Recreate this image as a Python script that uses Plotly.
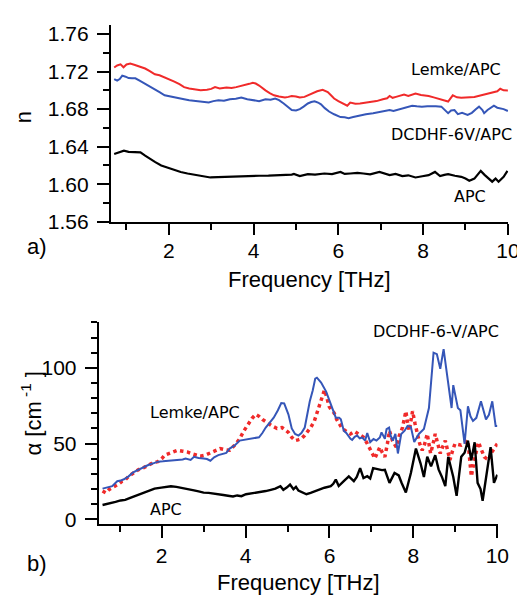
import plotly.graph_objects as go

# ---------------- Panel a: refractive index ----------------
f_lemke_a = [0.71,0.78,0.86,0.93,1.00,1.09,1.20,1.32,1.44,1.55,1.67,1.78,1.90,2.02,2.13,2.25,2.36,2.48,2.59,2.75,
             2.90,3.00,3.09,3.20,3.36,3.48,3.59,3.75,3.90,3.98,4.05,4.13,4.20,4.28,4.38,4.48,4.60,4.74,4.82,4.90,
             5.00,5.09,5.20,5.36,5.50,5.63,5.75,5.82,5.90,6.00,6.09,6.15,6.21,6.28,6.40,6.51,6.62,6.74,6.90,7.05,
             7.15,7.21,7.28,7.36,7.45,7.55,7.65,7.82,7.95,8.13,8.25,8.36,8.48,8.59,8.70,8.80,8.90,9.05,9.21,9.35,
             9.51,9.65,9.75,9.82,9.90,10.0]
n_lemke_a = [1.7243,1.7265,1.7277,1.7245,1.7275,1.7284,1.7270,1.7255,1.7232,1.7205,1.7170,1.7160,1.7139,1.7110,1.7093,1.7065,1.7034,1.7020,1.7010,1.7002,
             1.7006,1.7015,1.7034,1.7020,1.7030,1.7025,1.7034,1.7048,1.7069,1.7080,1.7072,1.7051,1.7025,1.6999,1.6970,1.6947,1.6935,1.6923,1.6930,1.6940,
             1.6935,1.6923,1.6930,1.6965,1.6990,1.7006,1.6982,1.6950,1.6913,1.6885,1.6860,1.6850,1.6836,1.6870,1.6858,1.6860,1.6865,1.6870,1.6885,1.6905,
             1.6915,1.6940,1.6920,1.6930,1.6945,1.6954,1.6940,1.6965,1.6950,1.6940,1.6925,1.6910,1.6890,1.6880,1.6947,1.6925,1.6920,1.6925,1.6930,1.6945,
             1.6965,1.6985,1.6990,1.7017,1.7000,1.6999]

f_dcdhf_a = [0.71,0.78,0.84,0.90,0.98,1.05,1.13,1.21,1.32,1.44,1.55,1.67,1.78,1.90,2.02,2.13,2.25,2.36,2.48,2.59,
             2.75,2.94,3.05,3.17,3.30,3.44,3.58,3.71,3.85,3.98,4.13,4.28,4.40,4.51,4.60,4.71,4.80,4.90,5.00,5.09,
             5.18,5.28,5.36,5.44,5.52,5.59,5.68,5.78,5.90,6.05,6.15,6.24,6.35,6.51,6.65,6.82,7.00,7.21,7.30,7.44,
             7.60,7.74,7.85,7.97,8.10,8.20,8.30,8.43,8.52,8.59,8.66,8.74,8.82,8.92,9.05,9.15,9.25,9.32,9.40,9.44,
             9.52,9.60,9.67,9.75,9.82,9.90,10.0]
n_dcdhf_a = [1.7120,1.7103,1.7120,1.7156,1.7145,1.7130,1.7128,1.7128,1.7100,1.7069,1.7045,1.7017,1.6980,1.6947,1.6935,1.6920,1.6910,1.6905,1.6895,1.6888,
             1.6880,1.6870,1.6885,1.6895,1.6890,1.6905,1.6910,1.6923,1.6905,1.6895,1.6885,1.6905,1.6900,1.6913,1.6895,1.6860,1.6825,1.6790,1.6785,1.6800,
             1.6826,1.6860,1.6875,1.6884,1.6870,1.6850,1.6810,1.6774,1.6745,1.6715,1.6712,1.6704,1.6715,1.6732,1.6745,1.6756,1.6772,1.6790,1.6780,1.6797,
             1.6815,1.6836,1.6830,1.6826,1.6830,1.6826,1.6830,1.6826,1.6790,1.6756,1.6785,1.6790,1.6746,1.6760,1.6738,1.6760,1.6800,1.6826,1.6790,1.6756,
             1.6790,1.6810,1.6836,1.6815,1.6808,1.6800,1.6780]

f_apc_a = [0.71,0.80,0.94,1.05,1.21,1.33,1.44,1.55,1.68,1.82,1.97,2.13,2.28,2.44,2.60,2.75,2.98,3.15,3.36,3.55,
           3.75,3.95,4.13,4.35,4.59,4.80,4.90,4.95,5.02,5.09,5.28,5.45,5.67,5.85,6.05,6.15,6.28,6.45,6.59,6.75,
           6.97,7.10,7.21,7.35,7.51,7.65,7.82,7.98,8.13,8.28,8.40,8.50,8.59,8.75,8.90,9.00,9.09,9.21,9.36,9.45,
           9.51,9.63,9.71,9.78,9.90,9.99]
n_apc_a = [1.6322,1.6335,1.6357,1.6345,1.6340,1.6340,1.6305,1.6270,1.6235,1.6200,1.6175,1.6149,1.6130,1.6114,1.6100,1.6086,1.6072,1.6075,1.6079,1.6085,
           1.6090,1.6088,1.6090,1.6092,1.6094,1.6098,1.6103,1.6110,1.6095,1.6086,1.6107,1.6102,1.6114,1.6108,1.6131,1.6110,1.6114,1.6120,1.6114,1.6105,
           1.6131,1.6110,1.6097,1.6110,1.6086,1.6095,1.6072,1.6085,1.6097,1.6131,1.6086,1.6100,1.6107,1.6090,1.6079,1.6060,1.6037,1.6060,1.6142,1.6100,
           1.6079,1.6027,1.6060,1.6027,1.6079,1.6142]

# ---------------- Panel b: absorption ----------------
f_dcdhf_b = [0.59,0.70,0.82,0.94,1.02,1.10,1.21,1.32,1.44,1.56,1.68,1.80,1.91,2.03,2.14,2.26,2.38,2.50,2.57,2.69,
             2.77,2.88,3.00,3.08,3.16,3.25,3.35,3.45,3.54,3.62,3.74,3.86,3.97,4.09,4.20,4.32,4.40,4.48,4.58,4.67,
             4.77,4.85,4.92,5.02,5.10,5.18,5.26,5.33,5.41,5.47,5.53,5.60,5.66,5.70,5.80,5.92,6.03,6.09,6.15,6.23,
             6.27,6.34,6.40,6.50,6.54,6.60,6.66,6.72,6.78,6.85,6.90,6.97,7.05,7.12,7.20,7.24,7.32,7.36,7.42,7.46,
             7.51,7.57,7.63,7.71,7.79,7.86,7.94,8.02,8.13,8.25,8.37,8.48,8.56,8.64,8.72,8.78,8.83,8.91,8.95,9.06,
             9.12,9.22,9.30,9.36,9.42,9.50,9.61,9.67,9.73,9.80,9.88,9.96,10.0]
a_dcdhf_b = [20.3,21.0,21.9,25.2,25.6,26.5,28.4,31.0,32.7,34.5,35.9,37.0,38.1,38.3,38.5,38.7,39.2,39.5,40.2,39.2,
             41.3,40.5,40.2,39.8,38.7,41.0,42.4,43.2,43.9,46.7,48.8,52.0,52.6,53.2,53.5,54.2,57.0,60.6,64.0,67.1,
             72.0,76.8,76.5,69.3,60.0,56.4,55.3,57.0,60.6,69.0,77.9,85.0,92.9,93.5,90.3,84.3,75.7,71.0,67.1,67.0,
             66.0,58.5,57.0,53.2,52.5,54.5,55.3,53.5,54.0,52.0,57.0,51.0,53.0,52.0,54.0,57.4,53.2,59.6,60.6,55.0,
             52.0,56.4,43.5,56.4,58.5,61.7,61.0,51.0,56.4,59.6,73.5,110.0,109.0,99.4,112.3,100.0,88.6,73.5,88.6,73.5,
             72.0,49.9,74.6,68.0,65.0,67.0,77.9,72.0,66.0,69.0,77.9,61.7,61.7]

f_lemke_b = [0.59,0.67,0.75,0.83,0.90,0.98,1.06,1.13,1.21,1.32,1.44,1.56,1.68,1.80,1.91,2.00,2.07,2.20,2.38,2.50,
             2.61,2.75,2.92,3.05,3.16,3.28,3.39,3.50,3.62,3.74,3.86,3.95,4.05,4.15,4.24,4.32,4.40,4.52,4.63,4.75,
             4.87,4.95,5.02,5.10,5.18,5.25,5.33,5.41,5.49,5.56,5.64,5.70,5.76,5.82,5.88,5.94,5.99,6.05,6.11,6.17,
             6.23,6.30,6.38,6.50,6.60,6.70,6.81,6.90,6.97,7.03,7.08,7.14,7.20,7.26,7.32,7.38,7.43,7.50,7.59,7.66,
             7.74,7.78,7.82,7.86,7.90,7.94,7.98,8.04,8.09,8.15,8.21,8.27,8.33,8.37,8.41,8.47,8.52,8.58,8.64,8.70,
             8.76,8.82,8.87,8.93,8.99,9.06,9.14,9.22,9.30,9.34,9.38,9.46,9.55,9.62,9.69,9.75,9.81,9.86,9.92,10.0]
a_lemke_b = [18.7,17.5,19.8,21.0,22.4,23.5,25.2,26.0,28.4,30.5,32.7,34.0,35.9,37.5,38.1,40.0,42.4,44.0,45.6,45.0,
             44.5,43.0,41.7,42.5,43.9,45.0,46.7,46.0,45.6,49.0,53.2,58.0,62.8,66.5,69.3,68.0,66.0,63.5,61.7,60.0,
             60.6,59.0,57.4,54.2,52.0,52.5,53.2,55.5,58.5,61.0,65.0,70.0,75.7,81.0,85.4,80.0,74.6,72.0,70.3,66.0,
             62.8,60.0,58.5,56.4,58.0,56.0,54.2,50.0,45.6,43.0,40.2,44.0,47.7,44.0,41.3,50.0,58.5,52.0,47.7,55.0,
             60.6,66.0,71.4,64.0,58.5,65.0,71.4,63.0,56.4,50.0,45.6,50.0,56.4,50.0,43.5,50.0,56.4,50.0,43.5,48.0,
             52.0,45.0,39.2,45.0,49.9,49.5,49.0,50.5,52.0,40.0,28.4,40.0,51.0,46.0,41.3,40.0,39.2,44.0,47.0,49.9]

f_apc_b = [0.59,0.67,0.75,0.90,1.02,1.13,1.25,1.37,1.48,1.60,1.72,1.83,1.99,2.10,2.22,2.35,2.53,2.65,2.77,2.88,
           3.00,3.12,3.23,3.35,3.47,3.58,3.70,3.80,3.90,4.01,4.12,4.24,4.36,4.48,4.60,4.71,4.83,4.90,4.98,5.06,
           5.14,5.20,5.26,5.33,5.45,5.55,5.72,5.88,6.03,6.09,6.15,6.22,6.34,6.46,6.58,6.65,6.73,6.81,6.90,6.97,
           7.04,7.15,7.25,7.32,7.43,7.55,7.65,7.72,7.82,7.94,8.06,8.17,8.25,8.33,8.42,8.52,8.60,8.68,8.76,8.83,
           8.95,9.03,9.14,9.22,9.30,9.38,9.46,9.53,9.60,9.65,9.73,9.84,9.92,10.0]
a_apc_b = [9.5,10.0,10.3,11.6,12.5,12.9,14.2,15.5,16.8,18.1,19.3,20.3,21.0,21.5,21.9,21.5,20.3,19.8,19.2,18.5,
           17.7,17.5,17.2,16.6,16.1,15.6,15.1,15.8,15.3,16.6,17.0,17.7,18.2,18.7,19.5,20.3,21.9,19.5,21.0,23.0,
           19.9,21.5,19.0,18.1,16.6,17.5,19.4,20.9,21.9,23.5,26.3,22.0,25.2,28.4,25.2,28.0,33.8,27.3,28.5,27.0,
           33.8,33.0,32.5,32.7,24.1,30.6,29.0,24.0,17.7,30.6,46.7,37.0,28.0,41.3,35.0,42.3,33.0,28.0,21.9,41.3,
           28.0,15.5,41.3,44.0,52.0,39.0,50.9,24.1,20.0,12.3,28.0,47.7,24.1,29.5]

RED = "#f02a2a"
BLUE = "#3556b8"
W, H = 525, 597


def px(x):
    return x / W


def py(y):
    return 1 - y / H


fig = go.Figure()
fig.add_trace(go.Scatter(x=f_lemke_a, y=n_lemke_a, mode="lines", line=dict(color=RED, width=2), xaxis="x", yaxis="y"))
fig.add_trace(go.Scatter(x=f_dcdhf_a, y=n_dcdhf_a, mode="lines", line=dict(color=BLUE, width=2), xaxis="x", yaxis="y"))
fig.add_trace(go.Scatter(x=f_apc_a, y=n_apc_a, mode="lines", line=dict(color="black", width=2.2), xaxis="x", yaxis="y"))

fig.add_trace(go.Scatter(x=f_lemke_b, y=a_lemke_b, mode="lines", line=dict(color=RED, width=3.5, dash="dot"), xaxis="x2", yaxis="y2"))
fig.add_trace(go.Scatter(x=f_dcdhf_b, y=a_dcdhf_b, mode="lines", line=dict(color=BLUE, width=2), xaxis="x2", yaxis="y2"))
fig.add_trace(go.Scatter(x=f_apc_b, y=a_apc_b, mode="lines", line=dict(color="black", width=2.4), xaxis="x2", yaxis="y2"))

TICKFONT = dict(family="Liberation Sans, Arial, sans-serif", size=21, color="black")
common = dict(showline=True, linecolor="black", linewidth=2, ticks="outside", tickwidth=2, tickcolor="black",
              showgrid=False, zeroline=False, tickfont=TICKFONT, mirror=False)
MINOR = dict(ticks="outside", ticklen=6, tickwidth=2, tickcolor="black")

fig.update_layout(
    width=W, height=H, margin=dict(l=0, r=0, t=0, b=0),
    paper_bgcolor="white", plot_bgcolor="white", showlegend=False,
    xaxis=dict(domain=[px(105), px(511)], range=[0.63, 10.01], anchor="y", tickvals=[2, 4, 6, 8, 10],
               ticklen=11, ticklabelstandoff=-2, minor=dict(tickvals=[1, 3, 5, 7, 9], **MINOR), **common),
    yaxis=dict(domain=[py(216.5), py(15)], range=[1.56, 1.7699], anchor="x",
               tickvals=[1.56, 1.60, 1.64, 1.68, 1.72, 1.76], ticktext=["1.56", "1.60", "1.64", "1.68", "1.72", "1.76"],
               ticklen=12, ticklabelstandoff=4, minor=dict(tickvals=[1.58, 1.62, 1.66, 1.70, 1.74], **MINOR), **common),
    xaxis2=dict(domain=[px(92.7), px(500)], range=[0.5, 10.005], anchor="y2", tickvals=[2, 4, 6, 8, 10],
                ticklen=12, minor=dict(tickvals=[1, 3, 5, 7, 9], **MINOR), **common),
    yaxis2=dict(domain=[py(525.7), py(319)], range=[-3.2, 130.2], anchor="x2", tickvals=[0, 50, 100],
                ticklen=12, ticklabelstandoff=4,
                minor=dict(tickvals=[10, 20, 30, 40, 60, 70, 80, 90, 110, 120, 130], **MINOR), **common),
)

LBL = dict(family="DejaVu Sans, Verdana, sans-serif", size=16, color="black")
AX = dict(family="Liberation Sans, Arial, sans-serif", size=22, color="black")


def ann(text, x, y, font, angle=0):
    fig.add_annotation(text=text, x=px(x), y=py(y), xref="paper", yref="paper", showarrow=False,
                       xanchor="center", yanchor="middle", font=font, textangle=angle)


ann("Lemke/APC", 457.5, 61, LBL)
ann("DCDHF-6V/APC", 453, 127.5, LBL)
ann("APC", 471.5, 191, LBL)
ann("n", 16, 110, AX, -90)
ann("a)", 30, 242, AX)
ann("Frequency [THz]", 307.5, 275, AX)

ann("DCDHF-6-V/APC", 437.5, 328.5, LBL)
ann("Lemke/APC", 190.5, 411.5, LBL)
ann("APC", 161, 511, LBL)
ann("α [cm<sup> -1</sup> ]", 24, 412, AX, -90)
ann("b)", 30, 566, AX)
ann("Frequency [THz]", 297, 585, AX)

fig.write_html("out.html")
